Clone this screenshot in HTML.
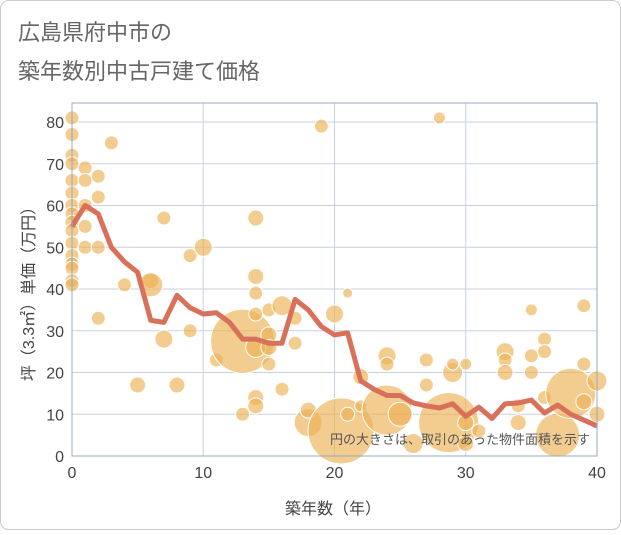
<!DOCTYPE html>
<html><head><meta charset="utf-8"><style>
body{margin:0;background:#fff;font-family:"Liberation Sans","Noto Sans CJK JP",sans-serif}
#wrap{position:relative;width:621px;height:530px}
</style></head><body>
<div id="wrap">
<svg id="chart" width="621" height="530" xmlns="http://www.w3.org/2000/svg">
<rect x="0.5" y="0.5" width="620" height="529" rx="8" fill="#fff" stroke="#ccc"/>
<text x="18" y="40" font-size="22" fill="#666" font-family="Liberation Sans, Noto Sans CJK JP, sans-serif">広島県府中市の</text>
<text x="18" y="79" font-size="22" fill="#666" font-family="Liberation Sans, Noto Sans CJK JP, sans-serif">築年数別中古戸建て価格</text>
<g id="grid"></g><g id="bubbles"></g><g id="line"></g><g id="axes"></g>
<text x="590" y="444" font-size="13" fill="#555" text-anchor="end" font-family="Liberation Sans, Noto Sans CJK JP, sans-serif">円の大きさは、取引のあった物件面積を示す</text>
<text x="333" y="514" font-size="16" fill="#444" text-anchor="middle" font-family="Liberation Sans, Noto Sans CJK JP, sans-serif">築年数（年）</text>
<text transform="translate(34,290) rotate(-90)" font-size="16" fill="#444" text-anchor="middle" font-family="Liberation Sans, Noto Sans CJK JP, sans-serif">坪（3.3㎡）単価（万円）</text>
</svg>
</div>
<script>
const xTicks=[0,10,20,30,40];
const yTicks=[0,10,20,30,40,50,60,70,80];
const lineYears=[0,1,2,3,4,5,6,7,8,9,10,11,12,13,14,15,16,17,18,19,20,21,22,23,24,25,26,27,28,29,30,31,32,33,34,35,36,37,38,39,40];
const lineValues=[55,60,58,50,46.5,44,32.5,32,38.5,35.5,34,34.3,32,28,28,27,27,37.5,35,31,29,29.5,18,16,14.5,14.5,12.7,12,11.5,12.5,9.5,11.7,9,12.5,12.7,13.4,10.3,12.2,10,8.6,7.2];
const bubbleYears=[0,0,0,0,0,0,0,0,0,0,0,0,0,0,0,0,1,1,1,1,1,2,2,2,2,3,4,5,6,6,7,7,8,9,9,10,11,13,13,14,14,14,14,14,14,14,15,15,15,15,16,16,17,17,18,18,19,20,20.5,21,21,22,22,24,24,24,25,26,27,27,28,28.7,29,29,30,30,30,31,33,33,33,34,34,35,35,35,36,36,36,37,38,39,39,39,40,40];
const bubbleValues=[81,77,72,70,66,63,60,58,56,54,51,48,46,45,42,41,69,66,55,50,60,67,62,50,33,75,41,17,42,41,57,28,17,48,30,50,23,27.5,10,57,43,39,34,26,14,12,29,26,22,35,36,16,33,27,8,11,79,34,6,39,10,19,12,24,22,11,10,3,23,17,81,8,20,22,22,8,3,6,25,23,20,8,12,35,24,20,28,25,14,5,15,36,22,13,18,10];
const bubbleSizes=[7,7,7,7,7,7,7,7,7,7,7,7,7,7,7,7,7,7,7,7,7,7,7,7,7,7,7,8,8,12,7,9,8,7,7,9,7,32,7,8,8,7,7,10,8,8,8,8,7,7,10,7,7,7,14,8,7,9,33,5,7,8,6,9,7,25,12,10,7,7,6,30,10,6,6,8,8,7,9,7,8,8,7,6,7,7,7,7,7,22,25,7,7,8,10,8];
const X0=72,X1=597,Y0=456,Y1=122;
const sx=v=>X0+(v-0)/40*(X1-X0);
const sy=v=>Y0-(v/80)*(Y0-Y1);
const NS="http://www.w3.org/2000/svg";
function mk(tag,parent,attrs){const e=document.createElementNS(NS,tag);for(const k in attrs)e.setAttribute(k,attrs[k]);parent.appendChild(e);return e;}
const grid=document.getElementById('grid'),axes=document.getElementById('axes');
const bg=mk('rect',grid,{x:X0,y:103,width:X1-X0,height:Y0-103,fill:'#fff'});


yTicks.forEach(t=>{
 const l=mk('line',grid,{x1:X0,x2:X1,y1:sy(t),y2:sy(t),stroke:'#c8d2de','stroke-width':1});
 
 
 const tx=mk('text',axes,{x:X0-8,y:sy(t)+6,'font-size':16,fill:'#444','text-anchor':'end'});
 tx.textContent=t;
 
 
});
xTicks.forEach(t=>{
 const l=mk('line',grid,{x1:sx(t),x2:sx(t),y1:103,y2:Y0,stroke:'#c8d2de','stroke-width':1});
 
 
 const tx=mk('text',axes,{x:sx(t),y:Y0+22,'font-size':16,fill:'#444','text-anchor':'middle'});
 tx.textContent=t;
 
 
});
const fr=mk('rect',axes,{x:X0,y:103,width:X1-X0,height:Y0-103,fill:'none',stroke:'#9aa8b8','stroke-width':1});


const bgp=document.getElementById('bubbles');
bubbleYears.forEach((yr,i)=>{
 const c=mk('circle',bgp,{cx:sx(yr),cy:sy(bubbleValues[i]),r:bubbleSizes[i],fill:'rgba(236,177,85,0.65)',stroke:'#fff','stroke-width':1});
 
 
});
const pts=lineYears.map((yr,i)=>sx(yr)+','+sy(lineValues[i])).join(' ');
const pl=mk('polyline',document.getElementById('line'),{points:pts,fill:'none',stroke:'#d9705a','stroke-width':5,'stroke-linejoin':'round'});


</script>
</body></html>
